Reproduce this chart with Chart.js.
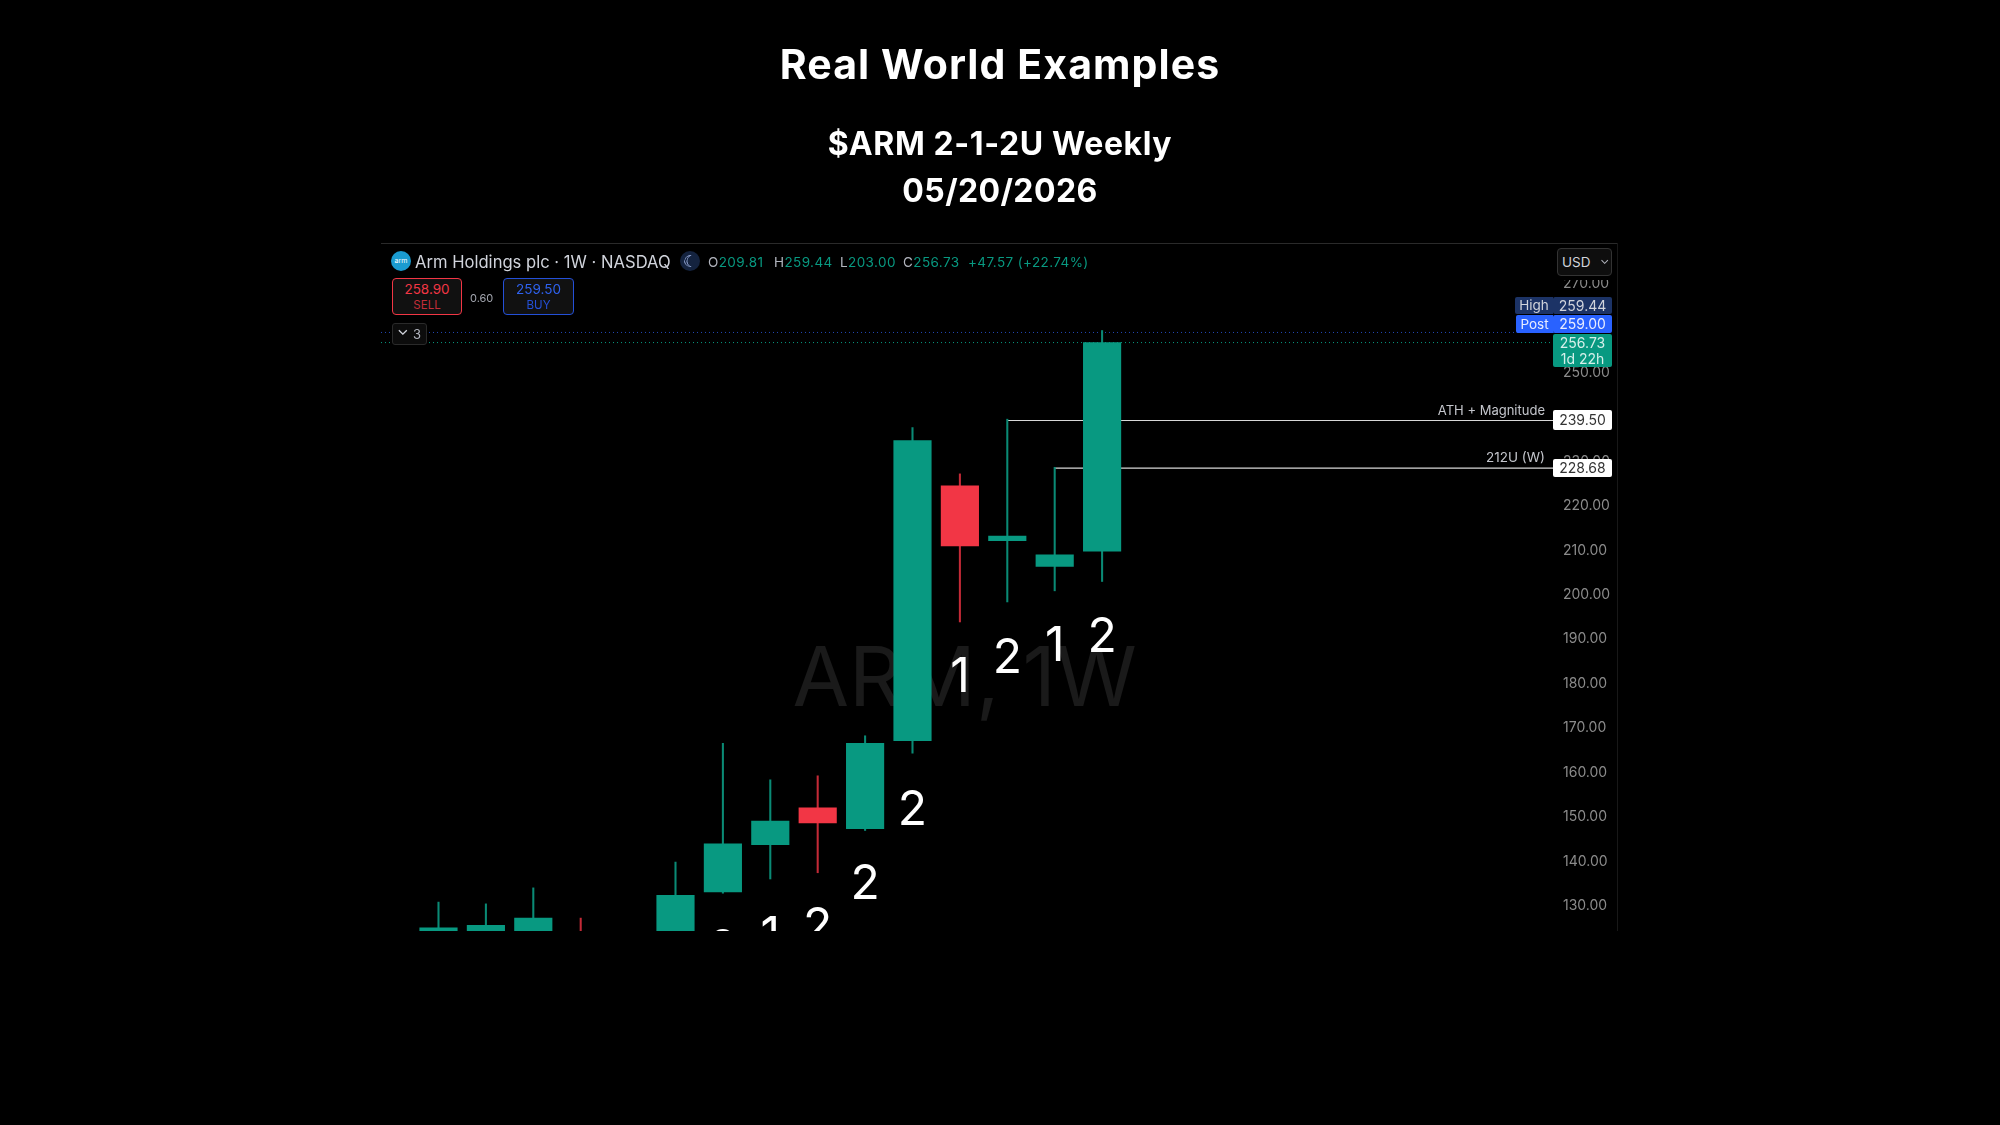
<!DOCTYPE html>
<html>
<head>
<meta charset="utf-8">
<title>$ARM 2-1-2U Weekly</title>
<script src="https://cdn.jsdelivr.net/npm/chart.js@4"></script>
<style>
  html, body { margin: 0; background: #000; }
  #page { position: relative; width: 2000px; height: 1125px; overflow: hidden; background: #000; font-family: Inter, sans-serif; }
  #page canvas { position: absolute; left: 0; top: 0; }
  .abs { position: absolute; white-space: nowrap; box-sizing: border-box; }
  .title { left: 0; width: 2000px; text-align: center; color: #fff; font-weight: 700; }
  .tag { left: 1553px; width: 59px; text-align: center; font-size: 14px; border-radius: 2px; }
  .side { font-size: 13.5px; color: #d1d4dc; text-align: center; border-radius: 2px 0 0 2px; }
  .ohlc { top: 253px; font-size: 13.5px; line-height: 18px; letter-spacing: 0.4px; }
  .ohlc b { font-weight: 400; color: #b2b5be; }
  .ohlc span { color: #089981; }
</style>
</head>
<body>
<div id="page">
  <canvas id="chart" width="2000" height="1125"></canvas>

  <div class="abs title" style="top:39px;font-size:41px;line-height:50px;letter-spacing:1.1px">Real World Examples</div>
  <div class="abs title" style="top:122px;font-size:32px;line-height:44px;letter-spacing:0.6px">$ARM 2-1-2U Weekly</div>
  <div class="abs title" style="top:169px;font-size:32px;line-height:44px;letter-spacing:0.4px">05/20/2026</div>

  <!-- entete du graphique -->
  <div class="abs" style="left:381px;top:243px;width:1237px;height:1px;background:#2a2a2a"></div>
  <div class="abs" style="left:1617px;top:243px;width:1px;height:688px;background:#181818"></div>
  <div class="abs" style="left:1555px;top:244px;width:60px;height:36px;background:#000"></div>
  <div class="abs" style="left:391px;top:251px;width:20px;height:20px;border-radius:50%;background:#1a9bd0;color:#fff;font-size:7px;line-height:20px;text-align:center">arm</div>
  <div class="abs" style="left:415px;top:251px;font-size:16.6px;line-height:22px;color:#d1d4dc">Arm Holdings plc · 1W · NASDAQ</div>
  <div class="abs" style="left:680px;top:251px;width:20px;height:20px;border-radius:50%;background:#14233f;color:#b9ccff;font-size:16px;line-height:20px;text-align:center">☾</div>
  <div class="abs ohlc" style="left:708px"><b>O</b><span>209.81</span></div>
  <div class="abs ohlc" style="left:774px"><b>H</b><span>259.44</span></div>
  <div class="abs ohlc" style="left:840px"><b>L</b><span>203.00</span></div>
  <div class="abs ohlc" style="left:903px"><b>C</b><span>256.73</span></div>
  <div class="abs ohlc" style="left:968px"><span>+47.57 (+22.74%)</span></div>

  <div class="abs" style="left:392px;top:278px;width:70px;height:37px;border:1px solid #f23645;border-radius:4px;background:#111;text-align:center;color:#f23645;font-size:13.5px;line-height:15px;padding-top:3px">258.90<br><span style="font-size:11.5px;color:#c22d39">SELL</span></div>
  <div class="abs" style="left:470px;top:291px;font-size:11px;line-height:14px;color:#a3a6af">0.60</div>
  <div class="abs" style="left:503px;top:278px;width:71px;height:37px;border:1px solid #2450d8;border-radius:4px;background:#111;text-align:center;color:#2f62ee;font-size:13.5px;line-height:15px;padding-top:3px">259.50<br><span style="font-size:11.5px;color:#2450d8">BUY</span></div>
  <div class="abs" style="left:392px;top:323px;width:35px;height:22px;border:1px solid #2a2a2a;border-radius:3px;background:#0c0c0c;color:#b2b5be;font-size:13px;line-height:20px;text-align:right;padding-right:5px">3</div>
  <div class="abs" style="left:397px;top:321px;color:#d1d4dc;font-size:15px;line-height:18px">⌄</div>

  <div class="abs" style="left:1557px;top:248px;width:55px;height:28px;border:1px solid #333;border-radius:4px;background:#0e0e0e;color:#d1d4dc;font-size:13.5px;line-height:26px;padding-left:4px">USD</div>
  <div class="abs" style="left:1600px;top:249px;color:#b2b5be;font-size:12px;line-height:22px">⌄</div>

  <!-- etiquettes de prix -->
  <div class="abs side" style="left:1515px;top:297px;width:38px;height:17px;line-height:17px;background:#1c3366">High</div>
  <div class="abs tag" style="top:297px;height:17px;line-height:17px;background:#1c3366;color:#d1d4dc">259.44</div>
  <div class="abs side" style="left:1516px;top:315px;width:37px;height:18px;line-height:18px;background:#2962ff;color:#e8ecff">Post</div>
  <div class="abs tag" style="top:315px;height:18px;line-height:18px;background:#2962ff;color:#e8ecff">259.00</div>
  <div class="abs tag" style="top:334px;height:33px;line-height:16px;padding-top:1px;background:#089981;color:#d6f0ea">256.73<br>1d 22h</div>
  <div class="abs tag" style="top:410px;height:20px;line-height:20px;background:#fff;color:#333">239.50</div>
  <div class="abs tag" style="top:459px;height:18px;line-height:18px;background:#fff;color:#333">228.68</div>
  <div class="abs" style="right:455px;top:402px;font-size:13px;line-height:17px;color:#c4c6cc">ATH + Magnitude</div>
  <div class="abs" style="right:455px;top:449px;font-size:13.5px;line-height:17px;color:#c4c6cc">212U (W)</div>
</div>

<script>
// semaines visibles, de gauche a droite
const weeks = [0, 1, 2, 3, 4, 5, 6, 7, 8, 9, 10, 11, 12, 13, 14];
// null = bougie entierement sous le bas du cadre
const opens = [121.0, 122.0, 123.0, 123.0, null, 122.0, 133.2, 143.8, 152.1, 147.4, 167.2, 224.5, 212.2, 206.4, 209.81];
const closes = [125.1, 125.7, 127.3, 120.5, null, 132.4, 144.0, 149.1, 148.7, 166.6, 234.7, 211.0, 213.2, 209.0, 256.73];
const highs = [130.9, 130.5, 134.1, 127.3, null, 139.9, 166.6, 158.4, 159.3, 168.3, 237.6, 227.2, 239.5, 228.68, 259.44];
const lows = [119.0, 120.0, 121.0, 120.0, null, 120.0, 132.9, 136.1, 137.5, 147.0, 164.4, 193.9, 198.4, 200.9, 203.0];

const yTicks = [130, 140, 150, 160, 170, 180, 190, 200, 210, 220, 230, 240, 250, 260, 270];

// compte des barres (strat)
const countTexts = ['2', '1', '2', '2', '2', '1', '2', '1', '2'];
const countWeeks = [6, 7, 8, 9, 10, 11, 12, 13, 14];
const countPrices = [120.2, 123.1, 125.1, 134.8, 151.5, 181.4, 185.6, 188.3, 190.4];

const GREEN = '#089981';
const RED = '#f23645';

const isUp = (i) => closes[i] >= opens[i];
const visible = weeks.filter((w, i) => opens[i] !== null);

const wickData = visible.map((w) => ({ x: w, y: [lows[w], highs[w]] }));
const bodyData = visible.map((w) => ({ x: w, y: [opens[w], closes[w]] }));
const couleurs = visible.map((w) => (isUp(w) ? GREEN : RED));
const couleursMeche = visible.map((w) => (isUp(w) ? '#0a8a75' : '#c42a37'));

// filigrane sous les bougies
const watermark = {
  id: 'watermark',
  beforeDatasetsDraw(chart) {
    const { ctx } = chart;
    ctx.save();
    ctx.fillStyle = '#1a1a1a';
    ctx.font = '82px Inter, sans-serif';
    ctx.textAlign = 'center';
    ctx.textBaseline = 'middle';
    ctx.fillText('ARM, 1W', chart.scales.x.getPixelForValue(11.1), chart.scales.y.getPixelForValue(180.6));
    ctx.restore();
  },
};

// chiffres 1 / 2 sous les bougies, coupes par le cadre
const countLabels = {
  id: 'countLabels',
  afterDatasetsDraw(chart) {
    const { ctx, chartArea, scales } = chart;
    ctx.save();
    ctx.beginPath();
    ctx.rect(chartArea.left, chartArea.top, chartArea.width, chartArea.height);
    ctx.clip();
    ctx.fillStyle = '#fff';
    ctx.font = '48px Inter, sans-serif';
    ctx.textAlign = 'center';
    ctx.textBaseline = 'middle';
    countTexts.forEach((t, i) => {
      ctx.fillText(t, scales.x.getPixelForValue(countWeeks[i]), scales.y.getPixelForValue(countPrices[i]));
    });
    ctx.restore();
  },
};

new Chart(document.getElementById('chart'), {
  type: 'bar',
  data: {
    datasets: [
      { data: bodyData, backgroundColor: couleurs, barThickness: 37.5, grouped: false, order: 1 },
      { data: wickData, backgroundColor: couleursMeche, barThickness: 1.4, grouped: false, order: 2 },
      { type: 'line', data: [{ x: 12, y: 239.2 }, { x: 23.555, y: 239.2 }], borderColor: '#d8d8d8', borderWidth: 1.2, pointRadius: 0, order: 3 },
      { type: 'line', data: [{ x: 13, y: 228.5 }, { x: 23.555, y: 228.5 }], borderColor: '#d8d8d8', borderWidth: 1.2, pointRadius: 0, order: 3 },
      { type: 'line', data: [{ x: -1.213, y: 259 }, { x: 23.555, y: 259 }], borderColor: '#2349b8', borderWidth: 1, borderDash: [1, 3], pointRadius: 0, order: 4 },
      { type: 'line', data: [{ x: -1.213, y: 256.73 }, { x: 23.555, y: 256.73 }], borderColor: GREEN, borderWidth: 1, borderDash: [1, 3], pointRadius: 0, order: 4 },
    ],
  },
  options: {
    responsive: false,
    animation: false,
    devicePixelRatio: 1,
    layout: { padding: { left: 381, top: 243, right: 382, bottom: 194 } },
    plugins: { legend: { display: false }, tooltip: { enabled: false } },
    scales: {
      x: { type: 'linear', display: false, offset: false, min: -1.213, max: 23.555 },
      y: {
        position: 'right',
        min: 124.4,
        max: 279.12,
        afterBuildTicks(axis) { axis.ticks = yTicks.map((v) => ({ value: v })); },
        afterFit(axis) { axis.width = 63; },
        grid: { display: false },
        border: { display: false },
        ticks: {
          padding: 0,
          color: '#8b8b8b',
          font: { family: 'Inter, sans-serif', size: 14 },
          autoSkip: false,
          callback: (v) => v.toFixed(2),
        },
      },
    },
  },
  plugins: [watermark, countLabels],
});
</script>
</body>
</html>
